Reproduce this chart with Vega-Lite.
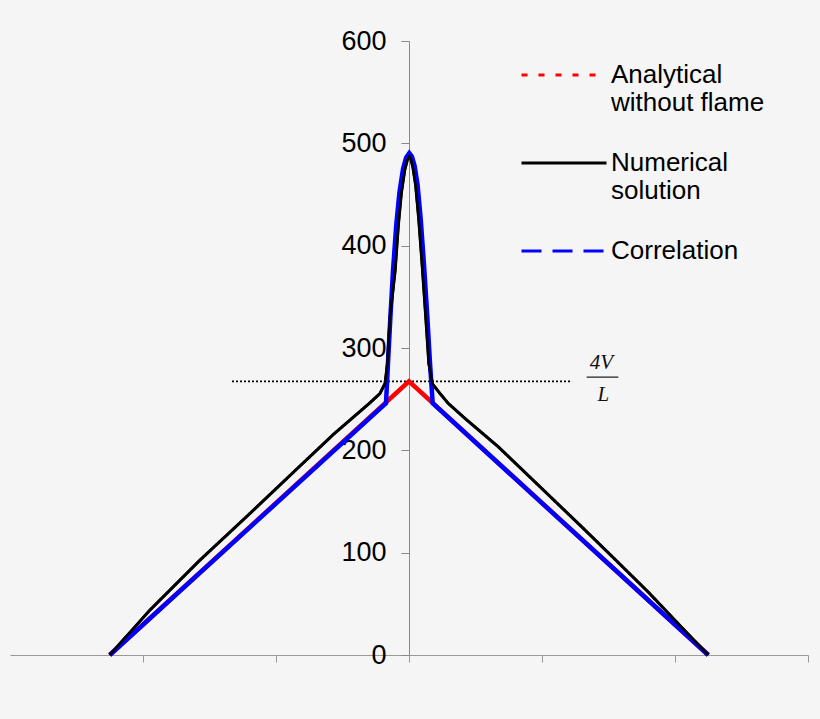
{
  "$schema": "https://vega.github.io/schema/vega-lite/v6.json",
  "width": 798,
  "height": 614,
  "autosize": {"type": "none"},
  "padding": {"left": 10, "top": 41, "right": 12, "bottom": 64},
  "background": "#f5f5f5",
  "config": {"view": {"stroke": null}, "font": "Liberation Sans"},
  "datasets": {
    "curves": [
      {"s": "Analytical|without flame", "x": -2.25, "y": 0},
      {"s": "Analytical|without flame", "x": 0, "y": 267.4},
      {"s": "Analytical|without flame", "x": 2.25, "y": 0},
      {"s": "Correlation", "x": -2.25, "y": 0},
      {"s": "Correlation", "x": -0.173, "y": 246},
      {"s": "Correlation", "x": -0.158, "y": 285},
      {"s": "Correlation", "x": -0.14, "y": 330},
      {"s": "Correlation", "x": -0.12, "y": 376},
      {"s": "Correlation", "x": -0.096, "y": 420},
      {"s": "Correlation", "x": -0.072, "y": 452},
      {"s": "Correlation", "x": -0.045, "y": 475},
      {"s": "Correlation", "x": -0.022, "y": 486},
      {"s": "Correlation", "x": 0.002, "y": 490.5},
      {"s": "Correlation", "x": 0.022, "y": 487},
      {"s": "Correlation", "x": 0.042, "y": 478},
      {"s": "Correlation", "x": 0.064, "y": 460},
      {"s": "Correlation", "x": 0.088, "y": 426},
      {"s": "Correlation", "x": 0.113, "y": 381},
      {"s": "Correlation", "x": 0.138, "y": 330},
      {"s": "Correlation", "x": 0.158, "y": 285},
      {"s": "Correlation", "x": 0.178, "y": 246},
      {"s": "Correlation", "x": 2.25, "y": 0},
      {"s": "Numerical|solution", "x": -2.25, "y": 0},
      {"s": "Numerical|solution", "x": -1.947, "y": 44},
      {"s": "Numerical|solution", "x": -1.571, "y": 92.8},
      {"s": "Numerical|solution", "x": -1.195, "y": 138.4},
      {"s": "Numerical|solution", "x": -0.87, "y": 178.5},
      {"s": "Numerical|solution", "x": -0.569, "y": 215.5},
      {"s": "Numerical|solution", "x": -0.293, "y": 246.5},
      {"s": "Numerical|solution", "x": -0.218, "y": 255.6},
      {"s": "Numerical|solution", "x": -0.18, "y": 265.4},
      {"s": "Numerical|solution", "x": -0.162, "y": 285},
      {"s": "Numerical|solution", "x": -0.143, "y": 330},
      {"s": "Numerical|solution", "x": -0.104, "y": 376},
      {"s": "Numerical|solution", "x": -0.08, "y": 420},
      {"s": "Numerical|solution", "x": -0.057, "y": 452},
      {"s": "Numerical|solution", "x": -0.032, "y": 474},
      {"s": "Numerical|solution", "x": -0.012, "y": 484},
      {"s": "Numerical|solution", "x": 0.004, "y": 487.5},
      {"s": "Numerical|solution", "x": 0.014, "y": 485},
      {"s": "Numerical|solution", "x": 0.03, "y": 476},
      {"s": "Numerical|solution", "x": 0.05, "y": 459},
      {"s": "Numerical|solution", "x": 0.073, "y": 426},
      {"s": "Numerical|solution", "x": 0.099, "y": 381},
      {"s": "Numerical|solution", "x": 0.126, "y": 330},
      {"s": "Numerical|solution", "x": 0.149, "y": 285},
      {"s": "Numerical|solution", "x": 0.176, "y": 265},
      {"s": "Numerical|solution", "x": 0.233, "y": 255.5},
      {"s": "Numerical|solution", "x": 0.295, "y": 245.9},
      {"s": "Numerical|solution", "x": 0.421, "y": 231.2},
      {"s": "Numerical|solution", "x": 0.671, "y": 203.5},
      {"s": "Numerical|solution", "x": 0.972, "y": 166},
      {"s": "Numerical|solution", "x": 1.298, "y": 125.3},
      {"s": "Numerical|solution", "x": 1.549, "y": 93.5},
      {"s": "Numerical|solution", "x": 1.799, "y": 61.5},
      {"s": "Numerical|solution", "x": 2.05, "y": 27},
      {"s": "Numerical|solution", "x": 2.25, "y": 0}
    ],
    "dotted": [{"x": -1.331, "x2": 1.226, "y": 267.4}],
    "bar": [{"x": 1.336, "x2": 1.574, "y": 271.5}],
    "frac": [
      {"x": 1.447, "y": 285.5, "t": "4V"},
      {"x": 1.462, "y": 254.5, "t": "L"}
    ]
  },
  "encoding": {
    "x": {
      "field": "x",
      "type": "quantitative",
      "scale": {"domain": [-3, 3]},
      "axis": {
        "title": null,
        "values": [-2, -1, 0, 1, 2, 3],
        "labels": false,
        "grid": false,
        "domainColor": "#999999",
        "tickColor": "#999999",
        "tickSize": 7
      }
    },
    "y": {
      "field": "y",
      "type": "quantitative",
      "scale": {"domain": [0, 600]},
      "axis": {
        "title": null,
        "values": [0, 100, 200, 300, 400, 500, 600],
        "grid": false,
        "offset": -399,
        "domainColor": "#888888",
        "tickColor": "#888888",
        "tickSize": 8,
        "labelFontSize": 27,
        "labelFont": "Liberation Sans",
        "labelColor": "black",
        "labelPadding": 15,
        "labelFlush": false
      }
    }
  },
  "layer": [
    {
      "data": {"name": "dotted"},
      "mark": {"type": "rule", "color": "black", "strokeWidth": 1.6, "strokeDash": [2, 2]},
      "encoding": {"x2": {"field": "x2"}}
    },
    {
      "data": {"name": "curves"},
      "mark": {"type": "line", "strokeWidth": 3},
      "encoding": {
        "color": {
          "field": "s",
          "type": "nominal",
          "scale": {
            "domain": ["Analytical|without flame", "Numerical|solution", "Correlation"],
            "range": ["#ff0000", "#000000", "#0000ff"]
          },
          "legend": {
            "title": null,
            "orient": "none",
            "legendX": 510,
            "legendY": -10,
            "symbolType": "stroke",
            "symbolSize": 7225,
            "symbolStrokeWidth": 3,
            "labelFontSize": 26,
            "labelLineHeight": 28.5,
            "labelFont": "Liberation Sans",
            "labelColor": "black",
            "labelOffset": 3,
            "labelLimit": 400,
            "padding": 0,
            "rowPadding": 3,
            "gridAlign": "all",
            "labelExpr": "split(datum.label, '|')"
          }
        },
        "strokeDash": {
          "field": "s",
          "type": "nominal",
          "scale": {
            "domain": ["Analytical|without flame", "Numerical|solution", "Correlation"],
            "range": [[6, 11], [1, 0], [20, 11]]
          },
          "legend": {
            "title": null,
            "orient": "none",
            "legendX": 510,
            "legendY": -10,
            "symbolType": "stroke",
            "symbolSize": 7225,
            "symbolStrokeWidth": 3,
            "labelFontSize": 26,
            "labelLineHeight": 28.5,
            "labelFont": "Liberation Sans",
            "labelColor": "black",
            "labelOffset": 3,
            "labelLimit": 400,
            "padding": 0,
            "rowPadding": 3,
            "gridAlign": "all",
            "labelExpr": "split(datum.label, '|')"
          }
        }
      }
    },
    {
      "data": {"name": "curves"},
      "transform": [{"filter": "datum.s == 'Analytical|without flame'"}],
      "mark": {"type": "line", "color": "#ff0000", "strokeWidth": 4.5}
    },
    {
      "data": {"name": "curves"},
      "transform": [{"filter": "datum.s == 'Correlation'"}],
      "mark": {"type": "line", "color": "#0000ff", "strokeWidth": 4.5}
    },
    {
      "data": {"name": "curves"},
      "transform": [{"filter": "datum.s == 'Numerical|solution'"}],
      "mark": {"type": "line", "color": "#000000", "strokeWidth": 2.6}
    },
    {
      "data": {"name": "bar"},
      "mark": {"type": "rule", "color": "#222222", "strokeWidth": 1.2},
      "encoding": {"x2": {"field": "x2"}}
    },
    {
      "data": {"name": "frac"},
      "mark": {
        "type": "text",
        "font": "Liberation Serif",
        "fontStyle": "italic",
        "fontSize": 21,
        "color": "#111111"
      },
      "encoding": {"text": {"field": "t"}}
    }
  ]
}
